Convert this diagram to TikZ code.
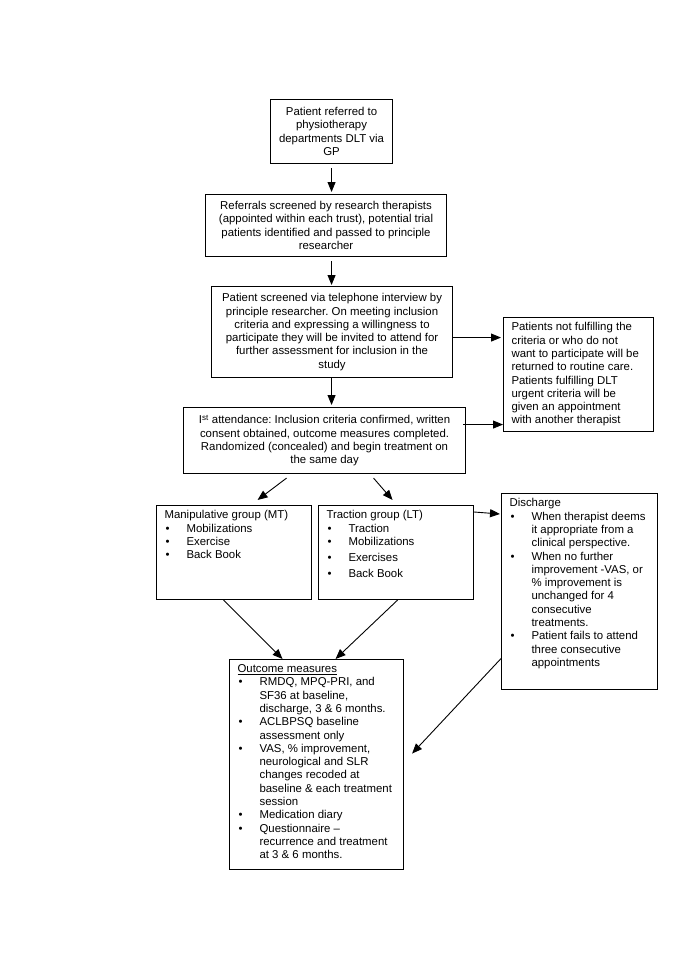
\documentclass[tikz,border=0pt]{standalone}
\usepackage{fontspec}
\setmainfont{Liberation Sans}
\usetikzlibrary{arrows.meta}

\newcommand{\bul}{\makebox[22pt][l]{\hspace{1pt}\textbullet}}
\newcommand{\ind}{\hspace*{22pt}}
\newcommand{\boxtext}[3]{\parbox[c][#2pt][t]{#1pt}{\raggedright #3}}

\begin{document}
\begin{tikzpicture}[x=1pt,y=-1pt,
  font=\fontsize{11.4}{13.3}\selectfont\frenchspacing,
  cbox/.style={draw, line width=1.1pt, anchor=north west, align=center, inner sep=2pt},
  lbox/.style={draw, line width=1.1pt, anchor=north west, inner xsep=8pt, inner ysep=5pt},
  arr/.style={-{Triangle[length=10pt,width=8pt]}, line width=0.9pt}]
  \fill[white] (0,0) rectangle (685,969);
  \useasboundingbox (0,0) rectangle (685,969);

  \node[cbox, minimum width=122pt, minimum height=64pt] (ref) at (270,99)
    {Patient referred to\\ physiotherapy\\ departments DLT via\\ GP};
  \node[cbox, minimum width=241pt, minimum height=62pt] (refl) at (205,194)
    {Referrals screened by research therapists\\ (appointed within each trust), potential trial\\
     patients identified and passed to principle\\ researcher};
  \node[cbox, minimum width=241pt, minimum height=91pt] (scr) at (211,286)
    {Patient screened via telephone interview by\\ principle researcher. On meeting inclusion\\
     criteria and expressing a willingness to\\ participate they will be invited to attend for\\
     further assessment for inclusion in the\\ study};
  \node[lbox] (notf) at (503,317) {\boxtext{134}{104}{%
    Patients not fulfilling the\\ criteria or who do not\\ want to participate will be\\
    returned to routine care.\\ Patients fulfilling DLT\\ urgent criteria will be\\
    given an appointment\\ with another therapist}};
  \node[cbox, minimum width=282pt, minimum height=66pt] (att) at (183,407)
    {I\textsuperscript{st} attendance: Inclusion criteria confirmed, written\\
     consent obtained, outcome measures completed.\\
     Randomized (concealed) and begin treatment on\\ the same day};
  \node[lbox] (mt) at (156,505) {\boxtext{139}{84}{%
    Manipulative group (MT)\\ \bul Mobilizations\\ \bul Exercise\\ \bul Back Book}};
  \node[lbox] (lt) at (318,505) {\boxtext{139}{84}{%
    Traction group (LT)\\ \bul Traction\\ \bul Mobilizations\\[2.5pt] \bul Exercises\\[2.5pt] \bul Back Book}};
  \node[lbox] (dis) at (501,493) {\boxtext{140}{186}{%
    Discharge\\
    \bul When therapist deems\\ \ind it appropriate from a\\ \ind clinical perspective.\\
    \bul When no further\\ \ind improvement -VAS, or\\ \ind \% improvement is\\
    \ind unchanged for 4\\ \ind consecutive\\ \ind treatments.\\
    \bul Patient fails to attend\\ \ind three consecutive\\ \ind appointments}};
  \node[lbox] (out) at (229,659) {\boxtext{158}{200}{%
    \underline{Outcome measures}\\
    \bul RMDQ, MPQ-PRI, and\\ \ind SF36 at baseline,\\ \ind discharge, 3 \& 6 months.\\
    \bul ACLBPSQ baseline\\ \ind assessment only\\
    \bul VAS, \% improvement,\\ \ind neurological and SLR\\ \ind changes recoded at\\
    \ind baseline \& each treatment\\ \ind session\\
    \bul Medication diary\\
    \bul Questionnaire --\\ \ind recurrence and treatment\\ \ind at 3 \& 6 months.}};

  \coordinate (s1) at ([yshift=-5.5pt]scr.east);
  \coordinate (a1) at ([xshift=-3pt,yshift=16pt]att.east);
  \coordinate (d1) at ([yshift=-67pt]dis.west);

  \draw[arr, shorten <=4pt, shorten >=2pt] (ref.south) -- (ref.south |- refl.north);
  \draw[arr, shorten <=4pt, shorten >=1pt] (refl.south -| ref.south) -- (ref.south |- scr.north);
  \draw[arr, shorten >=2pt] (scr.south -| ref.south) -- (ref.south |- att.north);
  \draw[arr, shorten >=2pt] (s1) -- (s1 -| notf.west);
  \draw[arr] (a1) -- (a1 -| notf.west);
  \draw[arr] ([xshift=-38pt,yshift=-4pt]att.south) -- ([xshift=23.5pt,yshift=5pt]mt.north);
  \draw[arr] ([xshift=49pt,yshift=-4pt]att.south) -- ([xshift=-3.5pt,yshift=5pt]lt.north);
  \draw[arr] ([yshift=-7pt]lt.north east) -- ([xshift=-1pt,yshift=-21pt]dis.north west);
  \draw[arr] ([xshift=-10.5pt]mt.south) -- ([xshift=-34pt]out.north);
  \draw[arr] ([xshift=1.5pt]lt.south) -- ([xshift=19pt]out.north);
  \draw[arr] (d1) -- ([xshift=8pt,yshift=11pt]out.east);
\end{tikzpicture}
\end{document}
